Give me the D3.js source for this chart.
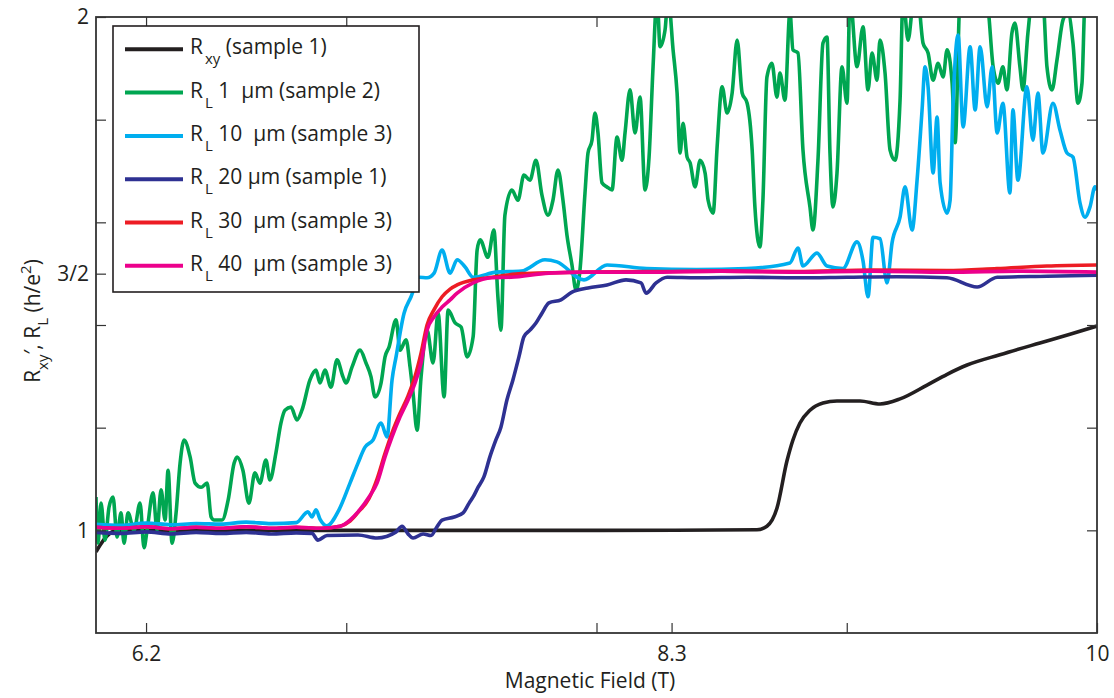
<!DOCTYPE html>
<html>
<head>
<meta charset="utf-8">
<script src="https://cdn.jsdelivr.net/npm/d3@7"></script>
<style>
  body { margin: 0; background: #fff; }
  #graf { width: 1114px; height: 698px; }
  #graf text { font-family: "Open Sans", sans-serif; fill: #231f20; }
</style>
</head>
<body>
<div id="graf"></div>
<script>
// Datos: [campo (T), resistencia (h/e^2)]
rxy_s1 = [[6.000,0.958],[6.016,0.971],[6.040,0.987],[6.076,0.999],[6.416,1.000],[7.215,1.000],[8.014,1.000],
  [8.641,1.001],[8.681,1.008],[8.721,1.043],[8.761,1.135],[8.785,1.176],[8.813,1.209],[8.853,1.234],[8.905,1.248],
  [8.961,1.252],[9.053,1.252],[9.133,1.246],[9.213,1.256],[9.321,1.283],[9.401,1.304],[9.481,1.322],[9.612,1.342],
  [9.772,1.365],[9.892,1.382],[10.000,1.398]]

rl1_s2 = [[6.000,1.065],[6.008,0.975],[6.020,1.053],[6.036,0.981],[6.052,1.045],[6.068,1.065],[6.084,0.987],
  [6.100,1.034],[6.112,0.975],[6.128,1.034],[6.152,1.000],[6.176,1.053],[6.192,0.966],[6.204,1.000],[6.228,1.073],
  [6.244,1.000],[6.260,1.079],[6.276,1.020],[6.288,1.117],[6.304,0.975],[6.320,1.034],[6.336,1.131],[6.352,1.176],
  [6.376,1.143],[6.396,1.092],[6.420,1.084],[6.444,1.092],[6.460,1.026],[6.472,1.020],[6.504,1.020],[6.528,1.059],
  [6.552,1.131],[6.564,1.143],[6.587,1.117],[6.611,1.053],[6.635,1.112],[6.655,1.092],[6.679,1.137],[6.695,1.098],
  [6.719,1.151],[6.739,1.209],[6.755,1.234],[6.779,1.240],[6.803,1.215],[6.823,1.234],[6.855,1.293],[6.879,1.312],
  [6.895,1.287],[6.915,1.312],[6.939,1.279],[6.963,1.332],[6.987,1.299],[6.999,1.287],[7.023,1.318],[7.055,1.351],
  [7.079,1.326],[7.099,1.299],[7.115,1.260],[7.139,1.287],[7.155,1.338],[7.171,1.357],[7.199,1.410],[7.215,1.351],
  [7.239,1.371],[7.255,1.318],[7.267,1.267],[7.283,1.195],[7.299,1.299],[7.323,1.390],[7.347,1.326],[7.367,1.423],
  [7.391,1.260],[7.407,1.429],[7.435,1.404],[7.459,1.396],[7.483,1.338],[7.507,1.377],[7.523,1.546],[7.535,1.566],
  [7.566,1.532],[7.590,1.585],[7.606,1.455],[7.618,1.390],[7.634,1.614],[7.662,1.663],[7.686,1.643],[7.710,1.692],
  [7.734,1.682],[7.758,1.721],[7.782,1.653],[7.806,1.614],[7.826,1.643],[7.846,1.702],[7.866,1.643],[7.882,1.575],
  [7.902,1.517],[7.918,1.468],[7.934,1.507],[7.954,1.657],[7.966,1.735],[7.982,1.760],[7.994,1.813],[8.006,1.774],
  [8.022,1.677],[8.042,1.669],[8.062,1.663],[8.082,1.766],[8.102,1.721],[8.114,1.774],[8.134,1.858],[8.154,1.774],
  [8.174,1.844],[8.194,1.663],[8.210,1.727],[8.226,1.903],[8.242,2.040],[8.254,1.942],[8.274,1.975],[8.286,2.040],
  [8.306,1.936],[8.322,1.852],[8.334,1.735],[8.346,1.793],[8.362,1.727],[8.374,1.716],[8.394,1.669],[8.414,1.721],
  [8.434,1.696],[8.446,1.643],[8.466,1.618],[8.482,1.747],[8.502,1.864],[8.522,1.813],[8.542,1.852],[8.562,1.955],
  [8.582,1.852],[8.602,1.832],[8.622,1.741],[8.633,1.630],[8.653,1.552],[8.665,1.643],[8.681,1.883],[8.701,1.910],
  [8.721,1.844],[8.733,1.891],[8.753,1.838],[8.773,2.010],[8.785,1.936],[8.805,1.930],[8.825,1.741],[8.853,1.630],
  [8.865,1.585],[8.885,1.721],[8.905,1.949],[8.921,1.961],[8.933,1.735],[8.945,1.630],[8.961,1.696],[8.981,1.903],
  [9.001,1.832],[9.013,2.040],[9.041,1.903],[9.065,1.981],[9.085,1.858],[9.101,1.930],[9.121,1.877],[9.133,1.955],
  [9.153,1.891],[9.173,1.741],[9.193,1.721],[9.213,1.838],[9.225,2.040],[9.245,1.955],[9.265,2.030],[9.281,2.050],
  [9.305,1.949],[9.325,1.930],[9.345,1.877],[9.365,1.910],[9.385,1.883],[9.401,1.936],[9.421,1.871],[9.433,1.755],
  [9.453,2.040],[9.481,2.060],[9.521,2.060],[9.561,2.030],[9.585,1.903],[9.605,1.871],[9.624,1.903],[9.640,1.858],
  [9.660,1.969],[9.672,1.988],[9.692,1.903],[9.704,1.858],[9.724,1.969],[9.740,2.030],[9.784,2.030],[9.800,1.903],
  [9.820,1.858],[9.840,1.916],[9.864,1.994],[9.884,2.008],[9.904,1.949],[9.924,1.832],[9.940,1.871],[9.952,2.030],
  [9.972,2.050],[10.000,2.050]]

rl10_s3 = [[6.000,1.012],[6.100,1.010],[6.200,1.014],[6.300,1.011],[6.400,1.013],[6.500,1.012],[6.600,1.016],
  [6.700,1.013],[6.800,1.015],[6.847,1.036],[6.863,1.026],[6.879,1.040],[6.895,1.022],[6.923,1.009],[6.971,1.040],
  [7.015,1.092],[7.047,1.131],[7.075,1.162],[7.107,1.176],[7.139,1.209],[7.163,1.182],[7.183,1.293],[7.199,1.338],
  [7.231,1.423],[7.259,1.455],[7.291,1.493],[7.323,1.492],[7.351,1.501],[7.383,1.546],[7.415,1.501],[7.443,1.527],
  [7.475,1.513],[7.507,1.493],[7.600,1.503],[7.700,1.505],[7.794,1.527],[7.842,1.523],[7.950,1.488],[8.042,1.517],
  [8.200,1.510],[8.400,1.508],[8.600,1.510],[8.773,1.521],[8.805,1.550],[8.825,1.515],[8.881,1.540],[8.921,1.515],
  [8.985,1.510],[9.041,1.562],[9.065,1.525],[9.085,1.455],[9.105,1.571],[9.133,1.568],[9.161,1.482],[9.181,1.560],
  [9.213,1.610],[9.233,1.669],[9.261,1.585],[9.281,1.682],[9.301,1.819],[9.313,1.903],[9.325,1.864],[9.345,1.696],
  [9.361,1.805],[9.373,1.677],[9.401,1.618],[9.413,1.643],[9.425,1.832],[9.445,1.965],[9.465,1.786],[9.493,1.942],
  [9.513,1.819],[9.533,1.942],[9.561,1.825],[9.581,1.903],[9.601,1.774],[9.624,1.832],[9.652,1.657],[9.664,1.819],
  [9.684,1.682],[9.720,1.864],[9.744,1.760],[9.764,1.852],[9.784,1.735],[9.824,1.832],[9.852,1.780],[9.880,1.735],
  [9.904,1.727],[9.932,1.638],[9.952,1.610],[9.972,1.630],[9.992,1.669],[10.000,1.663]]

rl20_s1 = [[6.000,0.996],[6.100,0.994],[6.200,0.997],[6.300,0.993],[6.400,0.996],[6.500,0.994],[6.600,0.996],
  [6.700,0.993],[6.800,0.995],[6.863,0.994],[6.887,0.981],[6.923,0.990],[7.047,0.991],[7.123,0.985],[7.199,0.997],
  [7.223,1.008],[7.247,0.993],[7.267,0.985],[7.307,0.993],[7.339,0.990],[7.359,1.004],[7.383,1.020],[7.431,1.026],
  [7.467,1.034],[7.491,1.053],[7.507,1.065],[7.527,1.084],[7.550,1.104],[7.574,1.143],[7.598,1.176],[7.618,1.201],
  [7.642,1.254],[7.666,1.293],[7.690,1.338],[7.710,1.377],[7.734,1.390],[7.758,1.404],[7.782,1.423],[7.810,1.443],
  [7.858,1.449],[7.902,1.464],[7.966,1.472],[8.042,1.478],[8.118,1.488],[8.178,1.482],[8.198,1.462],[8.238,1.482],
  [8.282,1.493],[8.400,1.492],[8.600,1.493],[8.800,1.492],[9.000,1.493],[9.200,1.494],[9.400,1.492],[9.521,1.474],
  [9.601,1.493],[9.800,1.495],[10.000,1.497]]

rl30_s3 = [[6.000,1.006],[6.100,1.004],[6.200,1.007],[6.300,1.003],[6.400,1.006],[6.500,1.004],[6.600,1.007],
  [6.700,1.004],[6.800,1.006],[6.900,1.004],[6.975,1.008],[7.015,1.018],[7.047,1.035],[7.091,1.062],[7.123,1.100],
  [7.155,1.150],[7.183,1.190],[7.215,1.228],[7.247,1.262],[7.275,1.300],[7.299,1.345],[7.323,1.400],[7.351,1.430],
  [7.383,1.455],[7.415,1.470],[7.443,1.478],[7.507,1.488],[7.582,1.493],[7.700,1.500],[7.966,1.503],[8.200,1.504],
  [8.500,1.505],[8.800,1.504],[9.100,1.507],[9.400,1.506],[9.600,1.510],[9.800,1.515],[10.000,1.517]]

rl40_s3 = [[6.000,1.006],[6.100,1.004],[6.200,1.007],[6.300,1.003],[6.400,1.006],[6.500,1.004],[6.600,1.007],
  [6.700,1.004],[6.800,1.006],[6.900,1.004],[6.975,1.008],[7.015,1.020],[7.047,1.036],[7.091,1.065],[7.123,1.092],
  [7.155,1.143],[7.183,1.182],[7.215,1.221],[7.247,1.254],[7.275,1.287],[7.299,1.326],[7.323,1.390],[7.351,1.416],
  [7.383,1.435],[7.415,1.449],[7.443,1.462],[7.507,1.482],[7.582,1.492],[7.658,1.493],[7.810,1.501],[7.966,1.503],
  [8.200,1.503],[8.500,1.505],[8.800,1.503],[9.100,1.505],[9.400,1.503],[9.700,1.505],[10.000,1.503]]

series    = [rxy_s1, rl1_s2, rl10_s3, rl20_s1, rl30_s3, rl40_s3]
colores   = ['#231f20', '#00a651', '#00aeef', '#2e3192', '#ed1c24', '#ec008c']
subindice = ['xy', 'L', 'L', 'L', 'L', 'L']
etiquetas = [' (sample 1)', ' 1  \u00b5m (sample 2)', ' 10  \u00b5m (sample 3)',
             ' 20 \u00b5m (sample 1)', ' 30  \u00b5m (sample 3)', ' 40  \u00b5m (sample 3)']

xTicks = [6.2, 7, 8, 8.3, 9, 10]
xTicksArriba = [6.2, 7, 8, 9]
xEtiquetas = { 6.2: '6.2', 8.3: '8.3', 10: '10' }
yTicks = [1, 1.2, 1.4, 1.5, 1.6, 1.8, 2]
yTicksDerecha = [1, 1.2, 1.4, 1.6, 1.8]
yEtiquetas = { 1: '1', 1.5: '3/2', 2: '2' }

ancho_total = 1114
alto_total  = 698
margins = { top: 17, left: 96, right: 17, bottom: 65 }
ancho = ancho_total - margins.left - margins.right
alto  = alto_total - margins.top - margins.bottom

svg = d3.select('#graf').append('svg')
        .attr('width', ancho_total)
        .attr('height', alto_total)

g = svg.append('g')
        .attr('transform', `translate(${ margins.left }, ${ margins.top })`)

// Escaladores
x = d3.scaleLinear().domain([6, 10]).range([0, ancho])
y = d3.scaleLinear().domain([0.8, 2]).range([alto, 0])

svg.append('defs').append('clipPath').attr('id', 'recorte')
   .append('rect').attr('width', ancho).attr('height', alto)

// Lineas (curva monotona para redondear los picos)
lineaGen = d3.line().x(d => x(d[0])).y(d => y(d[1])).curve(d3.curveMonotoneX)

lineas = g.append('g').attr('clip-path', 'url(#recorte)')
series.forEach((s, i) => {
  lineas.append('path')
        .attr('d', lineaGen(s))
        .attr('fill', 'none')
        .attr('stroke', colores[i])
        .attr('stroke-width', 3.6)
        .attr('stroke-linejoin', 'round')
})

// Ejes
estiloEje = sel => {
  sel.select('.domain').remove()
  sel.selectAll('line').attr('stroke', '#333').attr('stroke-width', 1.2)
  sel.selectAll('text').style('font-size', '21px')
}

g.append('g')
  .attr('transform', `translate(0, ${ alto })`)
  .call(d3.axisBottom(x).tickValues(xTicks).tickSizeInner(-10).tickSizeOuter(0)
          .tickPadding(13).tickFormat(d => xEtiquetas[d] || ''))
  .call(estiloEje)

g.append('g')
  .call(d3.axisTop(x).tickValues(xTicksArriba).tickSizeInner(-10).tickSizeOuter(0).tickFormat(''))
  .call(estiloEje)

g.append('g')
  .call(d3.axisLeft(y).tickValues(yTicks).tickSizeInner(-10).tickSizeOuter(0)
          .tickPadding(7).tickFormat(d => yEtiquetas[d] || ''))
  .call(estiloEje)

g.append('g')
  .attr('transform', `translate(${ ancho }, 0)`)
  .call(d3.axisRight(y).tickValues(yTicksDerecha).tickSizeInner(-10).tickSizeOuter(0).tickFormat(''))
  .call(estiloEje)

g.append('rect')
  .attr('width', ancho).attr('height', alto)
  .attr('fill', 'none').attr('stroke', '#333').attr('stroke-width', 1.8)

// Titulos de ejes
g.append('text')
  .attr('x', 494).attr('y', alto + 55)
  .attr('text-anchor', 'middle')
  .style('font-size', '21px')
  .text('Magnetic Field (T)')

ty = svg.append('text')
  .attr('transform', 'translate(40, 321) rotate(-90)')
  .attr('text-anchor', 'middle')
  .style('font-size', '21px')
ty.append('tspan').text('R')
ty.append('tspan').attr('dy', 8).style('font-size', '15px').text('xy')
ty.append('tspan').attr('dy', -8).text('\u2032, R')
ty.append('tspan').attr('dy', 8).style('font-size', '15px').text('L')
ty.append('tspan').attr('dy', -8).text(' (h/e')
ty.append('tspan').attr('dy', -9).style('font-size', '15px').text('2')
ty.append('tspan').attr('dy', 9).text(')')

// Leyenda
ley = g.append('g').attr('transform', 'translate(17, 9)')
ley.append('rect')
   .attr('width', 306).attr('height', 266)
   .attr('fill', '#fff').attr('stroke', '#231f20').attr('stroke-width', 1.6)

colores.forEach((c, i) => {
  fy = 23.3 + i * 43.3
  ley.append('line')
     .attr('x1', 12).attr('x2', 70).attr('y1', fy).attr('y2', fy)
     .attr('stroke', c).attr('stroke-width', 4)
  t = ley.append('text')
     .attr('x', 77).attr('y', fy + 5)
     .style('font-size', '21px')
     .style('white-space', 'pre')
  t.append('tspan').text('R')
  t.append('tspan').attr('dy', 10).attr('dx', 2).style('font-size', '15px').text(subindice[i])
  t.append('tspan').attr('dy', -10).text(etiquetas[i])
})
</script>
</body>
</html>
